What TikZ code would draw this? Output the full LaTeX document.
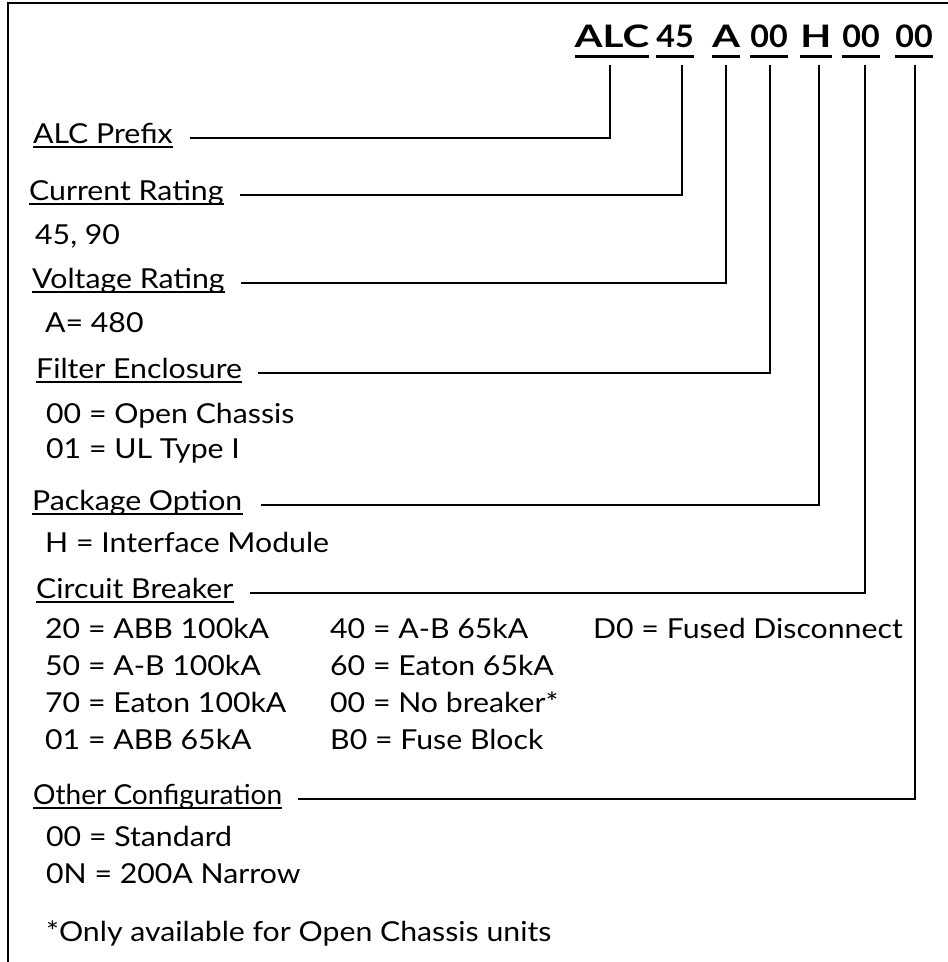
\documentclass[tikz,border=0pt]{standalone}
\usepackage{fontspec}
\setmainfont{Lato}[FakeStretch=1.1]
\newfontfamily\codefont{Lato}[FakeStretch=1.04]
\newfontfamily\codewide{Lato}[FakeStretch=1.3]
\newfontfamily\narrowfont{Lato}[FakeStretch=1.02]
\begin{document}
\begin{tikzpicture}[x=1pt,y=-1pt,
  lbl/.style={anchor=base west,inner sep=0pt,font=\fontsize{27.5}{32}\selectfont},
  code/.style={anchor=base,inner sep=0pt,font=\codefont\fontsize{31}{38}\selectfont\bfseries},
  codew/.style={code,font=\codewide\fontsize{31}{38}\selectfont\bfseries},
  conn/.style={line width=2.4pt},
  uline/.style={line width=2pt},
  cline/.style={line width=3pt},
  frame/.style={line width=2.6pt}]
\useasboundingbox (0,0) rectangle (948,962);
\draw[frame] (948,3) -- (8,3) -- (8,962);

% code tokens
\node[codew] (t1) at (612,47) {ALC};
\node[code] (t2) at (675,47) {45};
\node[codew] (t3) at (726,47) {A};
\node[code] (t4) at (769,47) {00};
\node[codew] (t5) at (816,47) {H};
\node[code] (t6) at (861,47) {00};
\node[code] (t7) at (914,47) {00};
\foreach \t in {t1,t2,t3,t4,t5,t6,t7}
  \draw[cline] ([yshift=-9pt]\t.base west) -- ([yshift=-9pt]\t.base east);

% labels
\node[lbl] (l1) at (33,143) {ALC Prefix};
\node[lbl] (l2) at (29,200) {Current Rating};
\node[lbl] (v2) at (35,244) {45, 90};
\node[lbl] (l3) at (32,288) {Voltage Rating};
\node[lbl] (v3) at (45,332) {A= 480};
\node[lbl] (l4) at (36,378) {Filter Enclosure};
\node[lbl] (v4a) at (46,423) {00 = Open Chassis};
\node[lbl] (v4b) at (46,458) {01 = UL Type I};
\node[lbl] (l5) at (32,510) {Package Option};
\node[lbl] (v5) at (45,552) {H = Interface Module};
\node[lbl] (l6) at (36,598) {Circuit Breaker};
\node[lbl] (r1a) at (45,638) {20 = ABB 100kA};
\node[lbl] (r1b) at (330,638) {40 = A-B 65kA};
\node[lbl] (r1c) at (593,638) {D0 = Fused Disconnect};
\node[lbl] (r2a) at (45,675) {50 = A-B 100kA};
\node[lbl] (r2b) at (330,675) {60 = Eaton 65kA};
\node[lbl] (r3a) at (45,712) {70 = Eaton 100kA};
\node[lbl] (r3b) at (330,712) {00 = No breaker*};
\node[lbl] (r4a) at (45,749) {01 = ABB 65kA};
\node[lbl] (r4b) at (330,749) {B0 = Fuse Block};
\node[lbl,font=\narrowfont\fontsize{27.5}{32}\selectfont] (l7) at (33,804) {Other Configuration};
\node[lbl] (v7a) at (46,846) {00 = Standard};
\node[lbl] (v7b) at (46,883) {0N = 200A Narrow};
\node[lbl] (note) at (46,941) {*Only available for Open Chassis units};

\foreach \l in {l1,l2,l3,l4,l5,l6,l7}
  \draw[uline] ([yshift=-4pt]\l.base west) -- ([yshift=-4pt]\l.base east);

% connectors
\draw[conn] ([xshift=-2pt,yshift=-18pt]t1.base) |- ([xshift=17pt,yshift=5pt]l1.base east);
\draw[conn] ([xshift=7pt,yshift=-18pt]t2.base) |- ([xshift=16pt,yshift=5pt]l2.base east);
\draw[conn] ([xshift=0pt,yshift=-18pt]t3.base) |- ([xshift=16pt,yshift=5pt]l3.base east);
\draw[conn] ([xshift=1pt,yshift=-18pt]t4.base) |- ([xshift=16pt,yshift=5pt]l4.base east);
\draw[conn] ([xshift=3pt,yshift=-18pt]t5.base) |- ([xshift=18pt,yshift=5pt]l5.base east);
\draw[conn] ([xshift=4pt,yshift=-18pt]t6.base) |- ([xshift=16pt,yshift=5pt]l6.base east);
\draw[conn] ([xshift=1pt,yshift=-18pt]t7.base) |- ([xshift=16pt,yshift=5pt]l7.base east);
\end{tikzpicture}
\end{document}
